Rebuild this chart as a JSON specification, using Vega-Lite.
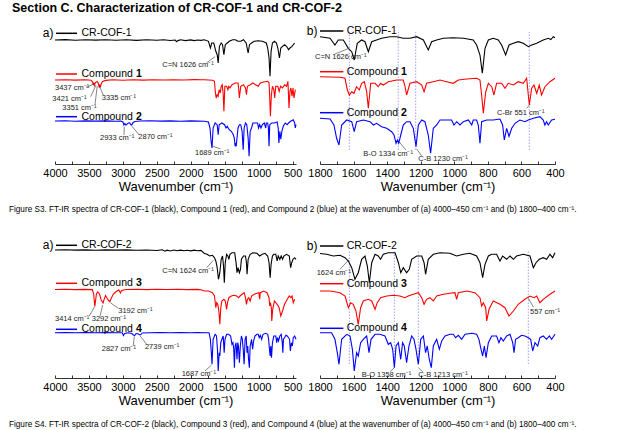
{
 "$schema": "https://vega.github.io/schema/vega-lite/v6.json",
 "padding": {"left": 9, "top": 2, "right": 5, "bottom": 2},
 "background": "white",
 "config": {"font": "Liberation Sans", "view": {"stroke": null}},
 "title": {"text": "Section C. Characterization of CR-COF-1 and CR-COF-2", "anchor": "start", "frame": "group", "dx": -43, "fontSize": 12.5, "fontWeight": "bold", "color": "#000", "offset": 10.5},
 "spacing": 25,
 "datasets": {
  "f3": [
   {"s":"k","w":4000,"v":127},{"s":"k","w":3850,"v":127.4},{"s":"k","w":3700,"v":126.8},{"s":"k","w":3550,"v":127.3},{"s":"k","w":3400,"v":126.9},{"s":"k","w":3250,"v":127.3},{"s":"k","w":3100,"v":126.8},{"s":"k","w":2950,"v":127.2},{"s":"k","w":2800,"v":126.6},{"s":"k","w":2650,"v":127.3},{"s":"k","w":2500,"v":126.7},{"s":"k","w":2400,"v":127.2},{"s":"k","w":2300,"v":126.5},{"s":"k","w":2230,"v":127},{"s":"k","w":2210,"v":125.3},{"s":"k","w":2190,"v":126.4},{"s":"k","w":2150,"v":127.2},{"s":"k","w":2080,"v":126.4},{"s":"k","w":2000,"v":127.1},{"s":"k","w":1950,"v":126.4},{"s":"k","w":1900,"v":127},{"s":"k","w":1850,"v":126.6},
   {"s":"k","w":1800,"v":127.3},{"s":"k","w":1740,"v":125.7},{"s":"k","w":1711,"v":119},{"s":"k","w":1691,"v":124},{"s":"k","w":1661,"v":124},{"s":"k","w":1631,"v":115.7},{"s":"k","w":1611,"v":112.3},{"s":"k","w":1596,"v":104},{"s":"k","w":1578,"v":120.7},{"s":"k","w":1552,"v":124},{"s":"k","w":1532,"v":122.3},{"s":"k","w":1512,"v":112.3},{"s":"k","w":1492,"v":122.3},{"s":"k","w":1463,"v":124},{"s":"k","w":1433,"v":125.7},{"s":"k","w":1383,"v":127.3},{"s":"k","w":1343,"v":127.3},{"s":"k","w":1304,"v":125.7},{"s":"k","w":1264,"v":125.7},{"s":"k","w":1224,"v":127.3},{"s":"k","w":1184,"v":124},{"s":"k","w":1155,"v":114},{"s":"k","w":1135,"v":122.3},{"s":"k","w":1105,"v":124},{"s":"k","w":1065,"v":125.7},{"s":"k","w":1006,"v":126.3},{"s":"k","w":946,"v":125.7},{"s":"k","w":887,"v":124},{"s":"k","w":867,"v":119},{"s":"k","w":847,"v":109},{"s":"k","w":833,"v":90.7},{"s":"k","w":817,"v":115.7},{"s":"k","w":797,"v":124},{"s":"k","w":768,"v":125.7},{"s":"k","w":738,"v":124},{"s":"k","w":718,"v":119},{"s":"k","w":694,"v":109},{"s":"k","w":674,"v":119},{"s":"k","w":648,"v":120.7},{"s":"k","w":619,"v":122.3},{"s":"k","w":589,"v":120.7},{"s":"k","w":559,"v":117.3},{"s":"k","w":539,"v":119},{"s":"k","w":509,"v":120.7},{"s":"k","w":470,"v":124},{"s":"k","w":440,"v":125.7},{"s":"k","w":425,"v":124.5},{"s":"k","w":410,"v":127.3},{"s":"k","w":400,"v":126.3},
   {"s":"r","w":4000,"v":87},{"s":"r","w":3850,"v":87.3},{"s":"r","w":3700,"v":86.9},{"s":"r","w":3550,"v":87.2},{"s":"r","w":3470,"v":86.8},{"s":"r","w":3445,"v":85},{"s":"r","w":3437,"v":82},{"s":"r","w":3429,"v":84.5},{"s":"r","w":3421,"v":81.5},{"s":"r","w":3405,"v":84.5},{"s":"r","w":3380,"v":85.5},{"s":"r","w":3365,"v":84},{"s":"r","w":3351,"v":80.5},{"s":"r","w":3343,"v":82.5},{"s":"r","w":3335,"v":79.5},{"s":"r","w":3320,"v":83},{"s":"r","w":3300,"v":85.5},{"s":"r","w":3250,"v":86.6},{"s":"r","w":3150,"v":87.2},{"s":"r","w":3000,"v":86.8},{"s":"r","w":2850,"v":87.2},{"s":"r","w":2700,"v":86.9},{"s":"r","w":2550,"v":87.3},{"s":"r","w":2400,"v":87},{"s":"r","w":2250,"v":87.2},{"s":"r","w":2100,"v":87},{"s":"r","w":1950,"v":87.4},{"s":"r","w":1850,"v":87.2},
   {"s":"r","w":1800,"v":87.3},{"s":"r","w":1681,"v":86.7},{"s":"r","w":1651,"v":85.7},{"s":"r","w":1637,"v":74},{"s":"r","w":1625,"v":69},{"s":"r","w":1611,"v":72.3},{"s":"r","w":1598,"v":70.7},{"s":"r","w":1582,"v":77.3},{"s":"r","w":1566,"v":74},{"s":"r","w":1552,"v":80.7},{"s":"r","w":1536,"v":82.3},{"s":"r","w":1522,"v":72.3},{"s":"r","w":1512,"v":55.7},{"s":"r","w":1498,"v":80.7},{"s":"r","w":1472,"v":80.7},{"s":"r","w":1453,"v":77.3},{"s":"r","w":1439,"v":80.7},{"s":"r","w":1423,"v":79},{"s":"r","w":1393,"v":82.3},{"s":"r","w":1343,"v":84},{"s":"r","w":1304,"v":84},{"s":"r","w":1294,"v":78},{"s":"r","w":1284,"v":69},{"s":"r","w":1264,"v":80.7},{"s":"r","w":1224,"v":82.3},{"s":"r","w":1194,"v":79},{"s":"r","w":1180,"v":72.3},{"s":"r","w":1165,"v":80.7},{"s":"r","w":1125,"v":82.3},{"s":"r","w":1085,"v":84},{"s":"r","w":1046,"v":82.3},{"s":"r","w":1006,"v":80.7},{"s":"r","w":976,"v":84},{"s":"r","w":926,"v":85},{"s":"r","w":867,"v":85.7},{"s":"r","w":847,"v":84},{"s":"r","w":837,"v":69},{"s":"r","w":827,"v":50.7},{"s":"r","w":813,"v":72},{"s":"r","w":797,"v":80.7},{"s":"r","w":777,"v":77.3},{"s":"r","w":764,"v":69},{"s":"r","w":748,"v":80.7},{"s":"r","w":718,"v":80.7},{"s":"r","w":698,"v":75.7},{"s":"r","w":678,"v":80.7},{"s":"r","w":648,"v":79},{"s":"r","w":619,"v":82.3},{"s":"r","w":589,"v":80.7},{"s":"r","w":569,"v":85.7},{"s":"r","w":553,"v":59},{"s":"r","w":539,"v":75.7},{"s":"r","w":525,"v":79},{"s":"r","w":509,"v":70.7},{"s":"r","w":494,"v":79},{"s":"r","w":480,"v":69},{"s":"r","w":460,"v":77.3},{"s":"r","w":430,"v":82.3},{"s":"r","w":400,"v":85.7},
   {"s":"b","w":4000,"v":46},{"s":"b","w":3850,"v":46.2},{"s":"b","w":3700,"v":45.8},{"s":"b","w":3550,"v":46.1},{"s":"b","w":3400,"v":45.9},{"s":"b","w":3250,"v":46.1},{"s":"b","w":3100,"v":45.8},{"s":"b","w":3030,"v":46},{"s":"b","w":3000,"v":45},{"s":"b","w":2985,"v":42},{"s":"b","w":2970,"v":43.5},{"s":"b","w":2955,"v":41.8},{"s":"b","w":2940,"v":42.8},{"s":"b","w":2920,"v":44},{"s":"b","w":2900,"v":44.2},{"s":"b","w":2885,"v":42.5},{"s":"b","w":2870,"v":42},{"s":"b","w":2850,"v":44.5},{"s":"b","w":2820,"v":45.5},{"s":"b","w":2750,"v":46},{"s":"b","w":2600,"v":46.2},{"s":"b","w":2450,"v":45.9},{"s":"b","w":2300,"v":46.1},{"s":"b","w":2150,"v":45.8},{"s":"b","w":2000,"v":46.1},{"s":"b","w":1900,"v":45.9},
   {"s":"b","w":1800,"v":45.7},{"s":"b","w":1740,"v":45},{"s":"b","w":1717,"v":39},{"s":"b","w":1701,"v":25.7},{"s":"b","w":1687,"v":19},{"s":"b","w":1671,"v":39},{"s":"b","w":1641,"v":44},{"s":"b","w":1611,"v":42.3},{"s":"b","w":1596,"v":32.3},{"s":"b","w":1582,"v":42.3},{"s":"b","w":1542,"v":44},{"s":"b","w":1502,"v":42.3},{"s":"b","w":1482,"v":39},{"s":"b","w":1463,"v":40.7},{"s":"b","w":1433,"v":37.3},{"s":"b","w":1403,"v":35.7},{"s":"b","w":1373,"v":32.3},{"s":"b","w":1359,"v":29},{"s":"b","w":1347,"v":20.7},{"s":"b","w":1339,"v":24},{"s":"b","w":1331,"v":20.7},{"s":"b","w":1319,"v":29},{"s":"b","w":1304,"v":39},{"s":"b","w":1284,"v":42.3},{"s":"b","w":1264,"v":42.3},{"s":"b","w":1244,"v":35.7},{"s":"b","w":1228,"v":17.3},{"s":"b","w":1214,"v":39},{"s":"b","w":1194,"v":44},{"s":"b","w":1175,"v":42.3},{"s":"b","w":1155,"v":29},{"s":"b","w":1141,"v":10.7},{"s":"b","w":1125,"v":35.7},{"s":"b","w":1105,"v":39},{"s":"b","w":1085,"v":44},{"s":"b","w":1046,"v":44},{"s":"b","w":1016,"v":44},{"s":"b","w":1002,"v":39},{"s":"b","w":986,"v":42.3},{"s":"b","w":966,"v":39},{"s":"b","w":946,"v":42.3},{"s":"b","w":916,"v":44},{"s":"b","w":896,"v":39},{"s":"b","w":887,"v":44},{"s":"b","w":867,"v":44},{"s":"b","w":857,"v":39},{"s":"b","w":847,"v":20.7},{"s":"b","w":837,"v":42.3},{"s":"b","w":807,"v":44},{"s":"b","w":768,"v":44},{"s":"b","w":728,"v":45},{"s":"b","w":712,"v":39},{"s":"b","w":702,"v":24},{"s":"b","w":688,"v":35.7},{"s":"b","w":674,"v":27.7},{"s":"b","w":658,"v":35.7},{"s":"b","w":638,"v":40.7},{"s":"b","w":609,"v":44},{"s":"b","w":579,"v":42.3},{"s":"b","w":559,"v":44},{"s":"b","w":529,"v":45.7},{"s":"b","w":490,"v":47.3},{"s":"b","w":470,"v":44},{"s":"b","w":460,"v":39},{"s":"b","w":450,"v":42.3},{"s":"b","w":440,"v":39},{"s":"b","w":420,"v":44},{"s":"b","w":400,"v":44.7}
  ],
  "f4": [
   {"s":"k","w":4000,"v":128},{"s":"k","w":3850,"v":128.2},{"s":"k","w":3700,"v":127.9},{"s":"k","w":3550,"v":128.1},{"s":"k","w":3400,"v":127.8},{"s":"k","w":3250,"v":128.1},{"s":"k","w":3100,"v":127.9},{"s":"k","w":2950,"v":128.1},{"s":"k","w":2800,"v":127.8},{"s":"k","w":2650,"v":128},{"s":"k","w":2500,"v":127.5},{"s":"k","w":2420,"v":128.2},{"s":"k","w":2380,"v":126.8},{"s":"k","w":2350,"v":127.8},{"s":"k","w":2300,"v":127},{"s":"k","w":2250,"v":128},{"s":"k","w":2200,"v":127.2},{"s":"k","w":2150,"v":127.9},{"s":"k","w":2100,"v":127.2},{"s":"k","w":2050,"v":127.8},{"s":"k","w":2000,"v":127.1},{"s":"k","w":1950,"v":127.9},{"s":"k","w":1900,"v":127.2},{"s":"k","w":1850,"v":127.6},
   {"s":"k","w":1800,"v":124.5},{"s":"k","w":1760,"v":123.7},{"s":"k","w":1721,"v":122},{"s":"k","w":1681,"v":122.7},{"s":"k","w":1651,"v":120.3},{"s":"k","w":1631,"v":117},{"s":"k","w":1611,"v":110.3},{"s":"k","w":1592,"v":98.7},{"s":"k","w":1572,"v":105.3},{"s":"k","w":1552,"v":118.7},{"s":"k","w":1532,"v":122},{"s":"k","w":1518,"v":112},{"s":"k","w":1506,"v":95.3},{"s":"k","w":1492,"v":115.3},{"s":"k","w":1472,"v":123.7},{"s":"k","w":1453,"v":122},{"s":"k","w":1439,"v":118.7},{"s":"k","w":1423,"v":123.7},{"s":"k","w":1393,"v":125.3},{"s":"k","w":1353,"v":125.3},{"s":"k","w":1333,"v":115.3},{"s":"k","w":1319,"v":105.3},{"s":"k","w":1304,"v":110.3},{"s":"k","w":1284,"v":105.3},{"s":"k","w":1268,"v":108.7},{"s":"k","w":1254,"v":118.7},{"s":"k","w":1224,"v":122},{"s":"k","w":1194,"v":122},{"s":"k","w":1180,"v":115.3},{"s":"k","w":1171,"v":103.7},{"s":"k","w":1155,"v":118.7},{"s":"k","w":1125,"v":123.7},{"s":"k","w":1085,"v":125.3},{"s":"k","w":1026,"v":124.7},{"s":"k","w":986,"v":122},{"s":"k","w":946,"v":123.7},{"s":"k","w":907,"v":124.7},{"s":"k","w":867,"v":122},{"s":"k","w":847,"v":115.3},{"s":"k","w":831,"v":100.3},{"s":"k","w":817,"v":113.7},{"s":"k","w":797,"v":122},{"s":"k","w":777,"v":123.7},{"s":"k","w":748,"v":123.7},{"s":"k","w":728,"v":117},{"s":"k","w":712,"v":122},{"s":"k","w":688,"v":118.7},{"s":"k","w":668,"v":122},{"s":"k","w":648,"v":118.7},{"s":"k","w":629,"v":122},{"s":"k","w":589,"v":123.7},{"s":"k","w":549,"v":122},{"s":"k","w":529,"v":110.3},{"s":"k","w":513,"v":115.3},{"s":"k","w":494,"v":118.7},{"s":"k","w":470,"v":120.3},{"s":"k","w":450,"v":118.7},{"s":"k","w":430,"v":123.7},{"s":"k","w":414,"v":120.3},{"s":"k","w":400,"v":125.3},
   {"s":"r","w":4000,"v":88.5},{"s":"r","w":3850,"v":88.7},{"s":"r","w":3700,"v":88.4},{"s":"r","w":3550,"v":88.6},{"s":"r","w":3450,"v":88.4},{"s":"r","w":3430,"v":84},{"s":"r","w":3414,"v":71.5},{"s":"r","w":3405,"v":76},{"s":"r","w":3390,"v":84},{"s":"r","w":3370,"v":86},{"s":"r","w":3345,"v":84},{"s":"r","w":3320,"v":78},{"s":"r","w":3292,"v":75},{"s":"r","w":3275,"v":79},{"s":"r","w":3255,"v":82.5},{"s":"r","w":3235,"v":80},{"s":"r","w":3210,"v":77.5},{"s":"r","w":3192,"v":76.5},{"s":"r","w":3170,"v":80},{"s":"r","w":3140,"v":84},{"s":"r","w":3100,"v":86.5},{"s":"r","w":3060,"v":88},{"s":"r","w":3035,"v":85},{"s":"r","w":3020,"v":87.5},{"s":"r","w":2950,"v":88.5},{"s":"r","w":2800,"v":88.7},{"s":"r","w":2650,"v":88.4},{"s":"r","w":2500,"v":88.7},{"s":"r","w":2350,"v":88.5},{"s":"r","w":2200,"v":88.7},{"s":"r","w":2050,"v":88.4},{"s":"r","w":1900,"v":88.6},{"s":"r","w":1850,"v":88.2},
   {"s":"r","w":1800,"v":87},{"s":"r","w":1740,"v":87},{"s":"r","w":1681,"v":85.3},{"s":"r","w":1651,"v":82},{"s":"r","w":1631,"v":70.3},{"s":"r","w":1617,"v":75.3},{"s":"r","w":1602,"v":73.7},{"s":"r","w":1586,"v":67},{"s":"r","w":1572,"v":53.7},{"s":"r","w":1558,"v":70.3},{"s":"r","w":1542,"v":77},{"s":"r","w":1512,"v":78.7},{"s":"r","w":1492,"v":77},{"s":"r","w":1472,"v":68.7},{"s":"r","w":1459,"v":75.3},{"s":"r","w":1439,"v":80.3},{"s":"r","w":1403,"v":82},{"s":"r","w":1363,"v":82.7},{"s":"r","w":1324,"v":82},{"s":"r","w":1294,"v":80.3},{"s":"r","w":1274,"v":82},{"s":"r","w":1244,"v":83.7},{"s":"r","w":1214,"v":85.3},{"s":"r","w":1194,"v":80.3},{"s":"r","w":1180,"v":73.7},{"s":"r","w":1165,"v":78.7},{"s":"r","w":1145,"v":80.3},{"s":"r","w":1125,"v":77},{"s":"r","w":1105,"v":82},{"s":"r","w":1065,"v":83.7},{"s":"r","w":1026,"v":84.7},{"s":"r","w":996,"v":85.3},{"s":"r","w":986,"v":78.7},{"s":"r","w":976,"v":85.3},{"s":"r","w":926,"v":87},{"s":"r","w":877,"v":85.3},{"s":"r","w":847,"v":80.3},{"s":"r","w":837,"v":72},{"s":"r","w":827,"v":75.3},{"s":"r","w":813,"v":70.3},{"s":"r","w":807,"v":57},{"s":"r","w":793,"v":68.7},{"s":"r","w":768,"v":77},{"s":"r","w":728,"v":73.7},{"s":"r","w":698,"v":70.3},{"s":"r","w":674,"v":62},{"s":"r","w":648,"v":67},{"s":"r","w":619,"v":73.7},{"s":"r","w":579,"v":78.7},{"s":"r","w":549,"v":82},{"s":"r","w":525,"v":80.3},{"s":"r","w":509,"v":82},{"s":"r","w":490,"v":75.3},{"s":"r","w":470,"v":78.7},{"s":"r","w":430,"v":83.7},{"s":"r","w":400,"v":87},
   {"s":"b","w":4000,"v":45.3},{"s":"b","w":3850,"v":45.5},{"s":"b","w":3700,"v":45.2},{"s":"b","w":3550,"v":45.4},{"s":"b","w":3400,"v":45.2},{"s":"b","w":3250,"v":45.4},{"s":"b","w":3100,"v":45.2},{"s":"b","w":3010,"v":45.3},{"s":"b","w":2992,"v":42.5},{"s":"b","w":2975,"v":44.5},{"s":"b","w":2920,"v":45.2},{"s":"b","w":2870,"v":44.5},{"s":"b","w":2845,"v":43},{"s":"b","w":2827,"v":42.5},{"s":"b","w":2805,"v":44.5},{"s":"b","w":2770,"v":44},{"s":"b","w":2750,"v":43},{"s":"b","w":2739,"v":43.2},{"s":"b","w":2715,"v":45},{"s":"b","w":2600,"v":45.3},{"s":"b","w":2450,"v":45.4},{"s":"b","w":2300,"v":45.2},{"s":"b","w":2150,"v":45.4},{"s":"b","w":2000,"v":45.2},{"s":"b","w":1900,"v":45.4},
   {"s":"b","w":1800,"v":45.3},{"s":"b","w":1731,"v":45.3},{"s":"b","w":1711,"v":38.7},{"s":"b","w":1697,"v":25.3},{"s":"b","w":1687,"v":13.7},{"s":"b","w":1671,"v":38.7},{"s":"b","w":1641,"v":43.7},{"s":"b","w":1621,"v":42},{"s":"b","w":1607,"v":28.7},{"s":"b","w":1596,"v":7},{"s":"b","w":1582,"v":25.3},{"s":"b","w":1572,"v":22},{"s":"b","w":1558,"v":35.3},{"s":"b","w":1542,"v":38.7},{"s":"b","w":1522,"v":42},{"s":"b","w":1508,"v":25.3},{"s":"b","w":1496,"v":38.7},{"s":"b","w":1472,"v":43.7},{"s":"b","w":1443,"v":43.7},{"s":"b","w":1413,"v":42},{"s":"b","w":1393,"v":33.7},{"s":"b","w":1379,"v":35.3},{"s":"b","w":1367,"v":28.7},{"s":"b","w":1357,"v":10.3},{"s":"b","w":1347,"v":32},{"s":"b","w":1333,"v":35.3},{"s":"b","w":1319,"v":18.7},{"s":"b","w":1308,"v":35.3},{"s":"b","w":1298,"v":32},{"s":"b","w":1284,"v":15.3},{"s":"b","w":1270,"v":32},{"s":"b","w":1254,"v":42},{"s":"b","w":1240,"v":38.7},{"s":"b","w":1228,"v":28.7},{"s":"b","w":1214,"v":13.7},{"s":"b","w":1200,"v":38.7},{"s":"b","w":1184,"v":42},{"s":"b","w":1171,"v":25.3},{"s":"b","w":1161,"v":32},{"s":"b","w":1149,"v":18.7},{"s":"b","w":1137,"v":10.3},{"s":"b","w":1125,"v":32},{"s":"b","w":1105,"v":38.7},{"s":"b","w":1089,"v":28.7},{"s":"b","w":1075,"v":37},{"s":"b","w":1055,"v":42},{"s":"b","w":1026,"v":43.7},{"s":"b","w":1006,"v":43.7},{"s":"b","w":992,"v":40.3},{"s":"b","w":976,"v":42.7},{"s":"b","w":956,"v":38.7},{"s":"b","w":936,"v":43.7},{"s":"b","w":896,"v":44.7},{"s":"b","w":867,"v":43.7},{"s":"b","w":853,"v":38.7},{"s":"b","w":843,"v":30.3},{"s":"b","w":831,"v":22},{"s":"b","w":821,"v":32},{"s":"b","w":811,"v":20.3},{"s":"b","w":797,"v":35.3},{"s":"b","w":777,"v":42},{"s":"b","w":748,"v":42},{"s":"b","w":734,"v":35.3},{"s":"b","w":722,"v":40.3},{"s":"b","w":708,"v":37},{"s":"b","w":688,"v":42},{"s":"b","w":668,"v":43.7},{"s":"b","w":652,"v":35.3},{"s":"b","w":644,"v":25.3},{"s":"b","w":635,"v":38.7},{"s":"b","w":619,"v":40.3},{"s":"b","w":599,"v":42.7},{"s":"b","w":579,"v":42},{"s":"b","w":559,"v":40.3},{"s":"b","w":545,"v":38.7},{"s":"b","w":533,"v":27},{"s":"b","w":519,"v":35.3},{"s":"b","w":503,"v":32},{"s":"b","w":490,"v":40.3},{"s":"b","w":470,"v":42},{"s":"b","w":450,"v":38.7},{"s":"b","w":434,"v":42},{"s":"b","w":420,"v":38.7},{"s":"b","w":400,"v":43.7}
  ]
 },
 "vconcat": [
  {
   "bounds": "flush",
   "spacing": 24,
   "title": {"text": "Figure S3. FT-IR spectra of CR-COF-1 (black), Compound 1 (red), and Compound 2 (blue) at the wavenumber of (a) 4000–450 cm⁻¹ and (b) 1800–400 cm⁻¹.", "orient": "bottom", "anchor": "start", "frame": "group", "dx": -46, "fontSize": 8.2, "fontWeight": "normal", "color": "#000", "offset": 13},
   "hconcat": [
    {
     "width": 241, "height": 136,
     "encoding": {
      "x": {"field": "w", "type": "quantitative", "scale": {"domain": [4000, 450], "nice": false, "zero": false},
            "axis": {"title": "Wavenumber (cm⁻¹)", "values": [4000,3750,3500,3250,3000,2750,2500,2250,2000,1750,1500,1250,1000,750,500], "format": "d", "labelExpr": "datum.value % 500 === 0 ? datum.label : ''", "tickSize": -3, "tickColor": "#000", "tickWidth": 0.8, "domainColor": "#000", "domainWidth": 0.8, "labelFontSize": 11, "labelColor": "#000", "labelPadding": 6, "labelOverlap": false, "labelFlush": false, "titleFontSize": 13, "titleFontWeight": "normal", "titleColor": "#000", "titlePadding": 2, "grid": false}},
      "y": {"field": "v", "type": "quantitative", "scale": {"domain": [3, 139], "nice": false, "zero": false}, "axis": null}
     },
     "layer": [
      {"data": {"name": "f3"}, "transform": [{"filter": "datum.w >= 450"}], "mark": {"type": "line", "strokeWidth": 1.1},
       "encoding": {"color": {"field": "s", "type": "nominal", "scale": {"domain": ["k","r","b"], "range": ["#000000","#ff0000","#0000ff"]}, "legend": null}}},
      {"data": {"values": [{"s":"k","w":3985,"w2":3676,"v":133.7},{"s":"r","w":3985,"w2":3676,"v":93},{"s":"b","w":3985,"w2":3676,"v":50.3}]}, "mark": {"type": "rule", "strokeWidth": 1.5},
       "encoding": {"x2": {"field": "w2"}, "color": {"field": "s", "type": "nominal", "scale": {"domain": ["k","r","b"], "range": ["#000000","#ff0000","#0000ff"]}, "legend": null}}},
      {"data": {"values": [{"t":"CR-COF-1","w":3610,"v":133.7},{"t":"Compound","w":3610,"v":93},{"t":"Compound","w":3610,"v":50.3}]}, "mark": {"type": "text", "align": "left", "baseline": "middle", "fontSize": 10.5, "color": "#000"},
       "encoding": {"text": {"field": "t"}}},
      {"data": {"values": [{"t":"1","w":2807,"v":93},{"t":"2","w":2807,"v":50.3}]}, "mark": {"type": "text", "align": "left", "baseline": "middle", "fontSize": 10.5, "fontWeight": "bold", "color": "#000"},
       "encoding": {"text": {"field": "t"}}},
      {"data": {"values": [{"t":"a)","w":4022,"v":133.7}]}, "mark": {"type": "text", "align": "right", "baseline": "middle", "fontSize": 12, "color": "#000"},
       "encoding": {"text": {"field": "t"}}},
      {"data": {"values": [{"t":"C=N 1626 cm⁻¹","w":2420,"v":102},{"t":"3437 cm⁻¹","w":4000,"v":78.7},{"t":"3421 cm⁻¹","w":4040,"v":68},{"t":"3351 cm⁻¹","w":3892,"v":59.3},{"t":"3335 cm⁻¹","w":3312,"v":68.7},{"t":"2933 cm⁻¹","w":3337,"v":28.7},{"t":"2870 cm⁻¹","w":2773,"v":29.7},{"t":"1689 cm⁻¹","w":1938,"v":14}]},
       "mark": {"type": "text", "align": "left", "baseline": "middle", "fontSize": 7.5, "color": "#222"},
       "encoding": {"text": {"field": "t"}}},
      {"data": {"values": [{"w":1765,"v":104.3,"w2":1643,"v2":110.3},{"w":3543,"v":79.7,"w2":3426,"v2":83},{"w":3474,"v":70.3,"w2":3396,"v2":82},{"w":3411,"v":62.7,"w2":3377,"v2":81},{"w":3289,"v":72,"w2":3347,"v2":81},{"w":2984,"v":32,"w2":2979,"v2":40.3},{"w":2758,"v":32,"w2":2870,"v2":41},{"w":1560,"v":18,"w2":1680,"v2":21}]},
       "mark": {"type": "rule", "strokeWidth": 0.6, "color": "#333"},
       "encoding": {"x2": {"field": "w2"}, "y2": {"field": "v2"}}}
     ]
    },
    {
     "width": 235, "height": 136,
     "encoding": {
      "x": {"field": "w", "type": "quantitative", "scale": {"domain": [1800, 400], "nice": false, "zero": false},
            "axis": {"title": "Wavenumber (cm⁻¹)", "values": [1800,1700,1600,1500,1400,1300,1200,1100,1000,900,800,700,600,500,400], "format": "d", "labelExpr": "datum.value % 200 === 0 ? datum.label : ''", "tickSize": -3, "tickColor": "#000", "tickWidth": 0.8, "domainColor": "#000", "domainWidth": 0.8, "labelFontSize": 11, "labelColor": "#000", "labelPadding": 6, "labelOverlap": false, "labelFlush": false, "titleFontSize": 13, "titleFontWeight": "normal", "titleColor": "#000", "titlePadding": 2, "grid": false}},
      "y": {"field": "v", "type": "quantitative", "scale": {"domain": [0, 136], "nice": false, "zero": false}, "axis": null}
     },
     "layer": [
      {"data": {"values": [{"w":1625,"v":14,"v2":132},{"w":1334,"v":14,"v2":132},{"w":1230,"v":14,"v2":132},{"w":553,"v":14,"v2":132}]}, "mark": {"type": "rule", "strokeDash": [1.5, 1.5], "strokeWidth": 0.8, "color": "#8c8cff"},
       "encoding": {"y2": {"field": "v2"}}},
      {"data": {"name": "f3"}, "transform": [{"filter": "datum.w <= 1800"}], "mark": {"type": "line", "strokeWidth": 1.1},
       "encoding": {"color": {"field": "s", "type": "nominal", "scale": {"domain": ["k","r","b"], "range": ["#000000","#ff0000","#0000ff"]}, "legend": null}}},
      {"data": {"values": [{"s":"k","w":1800,"w2":1661,"v":133},{"s":"r","w":1800,"w2":1661,"v":92.3},{"s":"b","w":1800,"w2":1661,"v":51.3}]}, "mark": {"type": "rule", "strokeWidth": 1.5},
       "encoding": {"x2": {"field": "w2"}, "color": {"field": "s", "type": "nominal", "scale": {"domain": ["k","r","b"], "range": ["#000000","#ff0000","#0000ff"]}, "legend": null}}},
      {"data": {"values": [{"t":"CR-COF-1","w":1641,"v":133},{"t":"Compound","w":1641,"v":92.3},{"t":"Compound","w":1641,"v":51.3}]}, "mark": {"type": "text", "align": "left", "baseline": "middle", "fontSize": 10.5, "color": "#000"},
       "encoding": {"text": {"field": "t"}}},
      {"data": {"values": [{"t":"1","w":1317,"v":92.3},{"t":"2","w":1317,"v":51.3}]}, "mark": {"type": "text", "align": "left", "baseline": "middle", "fontSize": 10.5, "fontWeight": "bold", "color": "#000"},
       "encoding": {"text": {"field": "t"}}},
      {"data": {"values": [{"t":"b)","w":1815,"v":133}]}, "mark": {"type": "text", "align": "right", "baseline": "middle", "fontSize": 12, "color": "#000"},
       "encoding": {"text": {"field": "t"}}},
      {"data": {"values": [{"t":"C=N 1626 cm⁻¹","w":1830,"v":107},{"t":"C-Br 551 cm⁻¹","w":746,"v":51.3},{"t":"B-O 1334 cm⁻¹","w":1542,"v":10},{"t":"C-B 1230 cm⁻¹","w":1214,"v":4.7}]},
       "mark": {"type": "text", "align": "left", "baseline": "middle", "fontSize": 7.5, "color": "#222"},
       "encoding": {"text": {"field": "t"}}},
      {"data": {"values": [{"w":1711,"v":110,"w2":1630,"v2":115.5},{"w":569,"v":55.7,"w2":549,"v2":59.5},{"w":1288,"v":14,"w2":1328,"v2":22},{"w":1194,"v":8,"w2":1224,"v2":15}]},
       "mark": {"type": "rule", "strokeWidth": 0.6, "color": "#333"},
       "encoding": {"x2": {"field": "w2"}, "y2": {"field": "v2"}}}
     ]
    }
   ]
  },
  {
   "bounds": "flush",
   "spacing": 24,
   "title": {"text": "Figure S4. FT-IR spectra of CR-COF-2 (black), Compound 3 (red), and Compound 4 (blue) at the wavenumber of (a) 4000–450 cm⁻¹ and (b) 1800–400 cm⁻¹.", "orient": "bottom", "anchor": "start", "frame": "group", "dx": -46, "fontSize": 8.2, "fontWeight": "normal", "color": "#000", "offset": 13.5},
   "hconcat": [
    {
     "width": 241, "height": 136,
     "encoding": {
      "x": {"field": "w", "type": "quantitative", "scale": {"domain": [4000, 450], "nice": false, "zero": false},
            "axis": {"title": "Wavenumber (cm⁻¹)", "values": [4000,3750,3500,3250,3000,2750,2500,2250,2000,1750,1500,1250,1000,750,500], "format": "d", "labelExpr": "datum.value % 500 === 0 ? datum.label : ''", "tickSize": -3, "tickColor": "#000", "tickWidth": 0.8, "domainColor": "#000", "domainWidth": 0.8, "labelFontSize": 11, "labelColor": "#000", "labelPadding": 6, "labelOverlap": false, "labelFlush": false, "titleFontSize": 13, "titleFontWeight": "normal", "titleColor": "#000", "titlePadding": 2, "grid": false}},
      "y": {"field": "v", "type": "quantitative", "scale": {"domain": [0, 136], "nice": false, "zero": false}, "axis": null}
     },
     "layer": [
      {"data": {"name": "f4"}, "transform": [{"filter": "datum.w >= 450"}], "mark": {"type": "line", "strokeWidth": 1.1},
       "encoding": {"color": {"field": "s", "type": "nominal", "scale": {"domain": ["k","r","b"], "range": ["#000000","#ff0000","#0000ff"]}, "legend": null}}},
      {"data": {"values": [{"s":"k","w":3985,"w2":3676,"v":132.7},{"s":"r","w":3985,"w2":3676,"v":94.7},{"s":"b","w":3985,"w2":3676,"v":48.7}]}, "mark": {"type": "rule", "strokeWidth": 1.5},
       "encoding": {"x2": {"field": "w2"}, "color": {"field": "s", "type": "nominal", "scale": {"domain": ["k","r","b"], "range": ["#000000","#ff0000","#0000ff"]}, "legend": null}}},
      {"data": {"values": [{"t":"CR-COF-2","w":3610,"v":132.7},{"t":"Compound","w":3610,"v":94.7},{"t":"Compound","w":3610,"v":48.7}]}, "mark": {"type": "text", "align": "left", "baseline": "middle", "fontSize": 10.5, "color": "#000"},
       "encoding": {"text": {"field": "t"}}},
      {"data": {"values": [{"t":"3","w":2807,"v":94.7},{"t":"4","w":2807,"v":48.7}]}, "mark": {"type": "text", "align": "left", "baseline": "middle", "fontSize": 10.5, "fontWeight": "bold", "color": "#000"},
       "encoding": {"text": {"field": "t"}}},
      {"data": {"values": [{"t":"a)","w":4022,"v":132.7}]}, "mark": {"type": "text", "align": "right", "baseline": "middle", "fontSize": 12, "color": "#000"},
       "encoding": {"text": {"field": "t"}}},
      {"data": {"values": [{"t":"C=N 1624 cm⁻¹","w":2420,"v":107},{"t":"3414 cm⁻¹","w":4000,"v":58.7},{"t":"3292 cm⁻¹","w":3459,"v":58.7},{"t":"3192 cm⁻¹","w":3068,"v":67},{"t":"2827 cm⁻¹","w":3312,"v":28.7},{"t":"2739 cm⁻¹","w":2675,"v":31},{"t":"1687 cm⁻¹","w":2134,"v":3.7}]},
       "mark": {"type": "text", "align": "left", "baseline": "middle", "fontSize": 7.5, "color": "#222"},
       "encoding": {"text": {"field": "t"}}},
      {"data": {"values": [{"w":1765,"v":110.3,"w2":1668,"v2":117.7},{"w":3495,"v":62,"w2":3420,"v2":71},{"w":3337,"v":62,"w2":3297,"v2":73},{"w":3068,"v":69.7,"w2":3185,"v2":75.3},{"w":2847,"v":32,"w2":2832,"v2":41.5},{"w":2650,"v":33.7,"w2":2745,"v2":42},{"w":1790,"v":7,"w2":1695,"v2":13}]},
       "mark": {"type": "rule", "strokeWidth": 0.6, "color": "#333"},
       "encoding": {"x2": {"field": "w2"}, "y2": {"field": "v2"}}}
     ]
    },
    {
     "width": 235, "height": 136,
     "encoding": {
      "x": {"field": "w", "type": "quantitative", "scale": {"domain": [1800, 400], "nice": false, "zero": false},
            "axis": {"title": "Wavenumber (cm⁻¹)", "values": [1800,1700,1600,1500,1400,1300,1200,1100,1000,900,800,700,600,500,400], "format": "d", "labelExpr": "datum.value % 200 === 0 ? datum.label : ''", "tickSize": -3, "tickColor": "#000", "tickWidth": 0.8, "domainColor": "#000", "domainWidth": 0.8, "labelFontSize": 11, "labelColor": "#000", "labelPadding": 6, "labelOverlap": false, "labelFlush": false, "titleFontSize": 13, "titleFontWeight": "normal", "titleColor": "#000", "titlePadding": 2, "grid": false}},
      "y": {"field": "v", "type": "quantitative", "scale": {"domain": [0, 136], "nice": false, "zero": false}, "axis": null}
     },
     "layer": [
      {"data": {"values": [{"w":1625,"v":14,"v2":127},{"w":1357,"v":14,"v2":127},{"w":1214,"v":14,"v2":127},{"w":559,"v":14,"v2":127}]}, "mark": {"type": "rule", "strokeDash": [1.5, 1.5], "strokeWidth": 0.8, "color": "#8c8cff"},
       "encoding": {"y2": {"field": "v2"}}},
      {"data": {"name": "f4"}, "transform": [{"filter": "datum.w <= 1800"}], "mark": {"type": "line", "strokeWidth": 1.1},
       "encoding": {"color": {"field": "s", "type": "nominal", "scale": {"domain": ["k","r","b"], "range": ["#000000","#ff0000","#0000ff"]}, "legend": null}}},
      {"data": {"values": [{"s":"k","w":1800,"w2":1661,"v":132},{"s":"r","w":1800,"w2":1661,"v":94.3},{"s":"b","w":1800,"w2":1661,"v":49.7}]}, "mark": {"type": "rule", "strokeWidth": 1.5},
       "encoding": {"x2": {"field": "w2"}, "color": {"field": "s", "type": "nominal", "scale": {"domain": ["k","r","b"], "range": ["#000000","#ff0000","#0000ff"]}, "legend": null}}},
      {"data": {"values": [{"t":"CR-COF-2","w":1641,"v":132},{"t":"Compound","w":1641,"v":94.3},{"t":"Compound","w":1641,"v":49.7}]}, "mark": {"type": "text", "align": "left", "baseline": "middle", "fontSize": 10.5, "color": "#000"},
       "encoding": {"text": {"field": "t"}}},
      {"data": {"values": [{"t":"3","w":1317,"v":94.3},{"t":"4","w":1317,"v":49.7}]}, "mark": {"type": "text", "align": "left", "baseline": "middle", "fontSize": 10.5, "fontWeight": "bold", "color": "#000"},
       "encoding": {"text": {"field": "t"}}},
      {"data": {"values": [{"t":"b)","w":1815,"v":132}]}, "mark": {"type": "text", "align": "right", "baseline": "middle", "fontSize": 12, "color": "#000"},
       "encoding": {"text": {"field": "t"}}},
      {"data": {"values": [{"t":"1624 cm⁻¹","w":1820,"v":105.3},{"t":"557 cm⁻¹","w":549,"v":66.3},{"t":"B-O 1358 cm⁻¹","w":1552,"v":3},{"t":"C-B 1213 cm⁻¹","w":1214,"v":3}]},
       "mark": {"type": "text", "align": "left", "baseline": "middle", "fontSize": 7.5, "color": "#222"},
       "encoding": {"text": {"field": "t"}}},
      {"data": {"values": [{"w":1681,"v":108.7,"w2":1631,"v2":117.7},{"w":529,"v":71,"w2":559,"v2":79.7},{"w":1383,"v":6.3,"w2":1357,"v2":10.3},{"w":1188,"v":6.3,"w2":1214,"v2":10.3}]},
       "mark": {"type": "rule", "strokeWidth": 0.6, "color": "#333"},
       "encoding": {"x2": {"field": "w2"}, "y2": {"field": "v2"}}}
     ]
    }
   ]
  }
 ]
}
